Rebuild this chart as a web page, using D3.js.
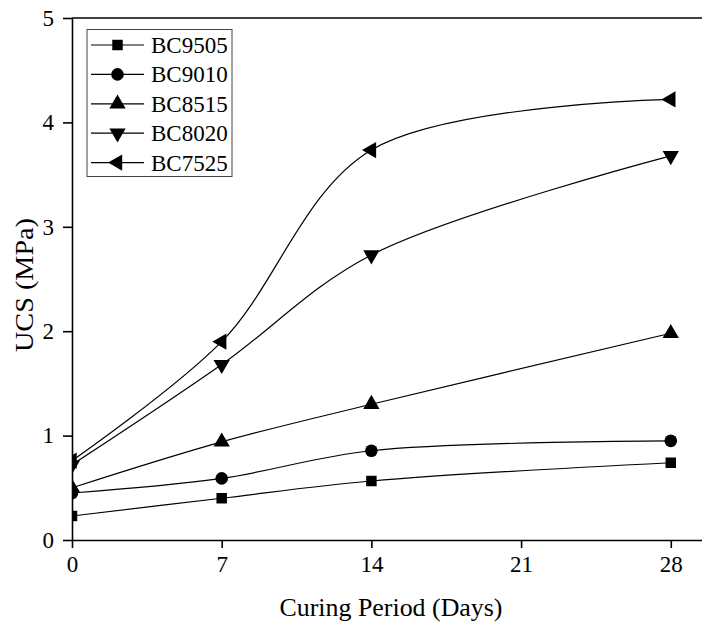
<!DOCTYPE html>
<html>
<head>
<meta charset="utf-8">
<script src="https://cdn.jsdelivr.net/npm/d3@7"></script>
<style>
  body { margin: 0; background: #fff; }
  svg { display: block; font-family: 'Liberation Serif', 'Times New Roman', serif; }
</style>
</head>
<body>
<div id="graph"></div>
<script>
// curing days on the x axis
var days = [0, 7, 14, 28];

// UCS values (MPa) per mix
var bc9505 = [0.23, 0.40, 0.565, 0.74];
var bc9010 = [0.45, 0.59, 0.855, 0.95];
var bc8515 = [0.50, 0.94, 1.30, 1.98];
var bc8020 = [0.72, 1.68, 2.73, 3.68];
var bc7525 = [0.76, 1.90, 3.735, 4.22];

var seriesNames = ['BC9505', 'BC9010', 'BC8515', 'BC8020', 'BC7525'];
var seriesValues = [bc9505, bc9010, bc8515, bc8020, bc7525];

var xTicks = [0, 7, 14, 21, 28];
var yTicks = [0, 1, 2, 3, 4, 5];

var width = 702,
	height = 623;

var xScale = d3.scaleLinear()
				.domain([0, 29.6])
				.range([72, 705]);

var yScale = d3.scaleLinear()
				.domain([0, 5])
				.range([540, 18]);

var svg = d3.select('#graph').append('svg')
			.attr('width', width)
			.attr('height', height);

svg.append('defs').append('clipPath')
	.attr('id', 'plotClip')
	.append('rect')
		.attr('x', 72)
		.attr('y', 0)
		.attr('width', 640)
		.attr('height', 540);

// marker shapes: square, circle, up, down, left triangles
var markers = [
	{ type: d3.symbolSquare, size: 110, rot: 0 },
	{ type: d3.symbolCircle, size: 125, rot: 0 },
	{ type: d3.symbolTriangle, size: 115, rot: 0 },
	{ type: d3.symbolTriangle, size: 115, rot: 180 },
	{ type: d3.symbolTriangle, size: 115, rot: -90 }
];

function markerPath(i) {
	return d3.symbol().type(markers[i].type).size(markers[i].size)();
}

function drawAxes() {
	var xAxis = d3.axisBottom(xScale)
					.tickValues(xTicks)
					.tickSizeInner(8)
					.tickSizeOuter(0)
					.tickPadding(8);

	var yAxis = d3.axisLeft(yScale)
					.tickValues(yTicks)
					.tickFormat(d3.format('d'))
					.tickSizeInner(9)
					.tickSizeOuter(0)
					.tickPadding(9);

	svg.append('g')
		.attr('class', 'xAxis')
		.attr('transform', 'translate(0,540)')
		.call(xAxis);

	svg.append('g')
		.attr('class', 'yAxis')
		.attr('transform', 'translate(72,0)')
		.call(yAxis);

	svg.selectAll('.domain, .tick line')
		.attr('stroke', '#000')
		.attr('stroke-width', 1.6);

	svg.selectAll('.tick text')
		.attr('fill', '#000')
		.style('font-family', 'Liberation Serif, serif')
		.style('font-size', '23px');

	// top frame line
	svg.append('line')
		.attr('x1', 72)
		.attr('x2', width)
		.attr('y1', yScale(5))
		.attr('y2', yScale(5))
		.attr('stroke', '#000')
		.attr('stroke-width', 1.6);

	svg.append('text')
		.attr('x', 391)
		.attr('y', 616)
		.attr('text-anchor', 'middle')
		.attr('textLength', 223)
		.attr('lengthAdjust', 'spacingAndGlyphs')
		.style('font-size', '25px')
		.text('Curing Period (Days)');

	svg.append('text')
		.attr('transform', 'translate(33,285) rotate(-90)')
		.attr('text-anchor', 'middle')
		.attr('textLength', 134)
		.attr('lengthAdjust', 'spacingAndGlyphs')
		.style('font-size', '25px')
		.text('UCS (MPa)');
}

function drawSeries() {
	var line = d3.line()
				.x(function(d) { return xScale(d[0]); })
				.y(function(d) { return yScale(d[1]); })
				.curve(d3.curveCatmullRom);

	var plot = svg.append('g').attr('clip-path', 'url(#plotClip)');

	seriesValues.forEach(function(vals, i) {
		var pts = days.map(function(d, j) { return [d, vals[j]]; });

		plot.append('path')
			.attr('d', line(pts))
			.attr('fill', 'none')
			.attr('stroke', '#000')
			.attr('stroke-width', 1.2);

		plot.selectAll('.m' + i).data(pts).enter()
			.append('path')
				.attr('class', 'm' + i)
				.attr('d', markerPath(i))
				.attr('transform', function(d) {
					return 'translate(' + xScale(d[0]) + ',' + yScale(d[1]) + ') rotate(' + markers[i].rot + ')';
				})
				.attr('fill', '#000');
	});
}

function drawLegend() {
	var g = svg.append('g').attr('class', 'legend');

	g.append('rect')
		.attr('x', 87)
		.attr('y', 29.5)
		.attr('width', 145)
		.attr('height', 147)
		.attr('fill', '#fff')
		.attr('stroke', '#444')
		.attr('stroke-width', 1);

	seriesNames.forEach(function(name, i) {
		var y = 45 + i * 29.4;

		g.append('line')
			.attr('x1', 91)
			.attr('x2', 144)
			.attr('y1', y)
			.attr('y2', y)
			.attr('stroke', '#000')
			.attr('stroke-width', 1.2);

		g.append('path')
			.attr('d', markerPath(i))
			.attr('transform', 'translate(117.5,' + y + ') rotate(' + markers[i].rot + ')')
			.attr('fill', '#000');

		g.append('text')
			.attr('x', 151)
			.attr('y', y)
			.attr('dy', '0.35em')
			.style('font-size', '23px')
			.text(name);
	});
}

drawAxes();
drawSeries();
drawLegend();
</script>
</body>
</html>
